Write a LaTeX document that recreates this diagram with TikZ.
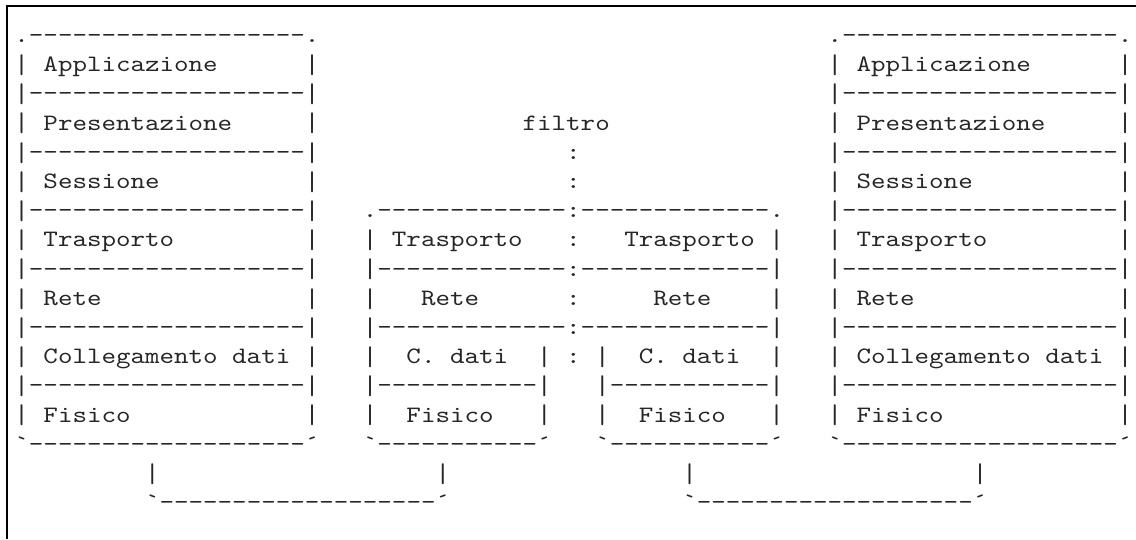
\documentclass[tikz,border=0pt]{standalone}
\usepackage{fontspec}
\newfontfamily\asciifont{lmmono10-regular.otf}[FakeStretch=1.177]
\newcounter{tn}
\newcommand\dsh[1]{\foreach\k in {1,...,#1}{-}}
\newcommand\vb{\raisebox{-1.8pt}{\scalebox{1}[1.15]{|}}}
\tikzset{
  txt/.style={anchor=base west, inner sep=0pt, outer sep=0pt, text=black!85,
    font=\asciifont\fontsize{23.5}{29}\selectfont},
  frame/.style={line width=1.3pt, draw=black}
}
\newcommand\gl[3]{\stepcounter{tn}\node[txt] (t\arabic{tn}) at ({14.44+#1*14.52},{539-42.5-#2*29.2}) {#3};}
\begin{document}
\begin{tikzpicture}[x=1pt,y=1pt]
\useasboundingbox (0,0) rectangle (1136,539);
\coordinate (fa) at (7,0);
\coordinate (fb) at (7,533);
\coordinate (fc) at (1136,533);
\draw[frame] (fa) -- (fb) -- (fc);
% left and right stacks
\foreach \c in {0,56} {
  \pgfmathtruncatemacro\cl{\c+20}
  \pgfmathtruncatemacro\ct{\c+2}
  \gl{\c}{0}{.\dsh{19}.}
  \gl{\c}{1}{\vb} \gl{\ct}{1}{Applicazione} \gl{\cl}{1}{\vb}
  \gl{\c}{2}{\vb\dsh{19}\vb}
  \gl{\c}{3}{\vb} \gl{\ct}{3}{Presentazione} \gl{\cl}{3}{\vb}
  \gl{\c}{4}{\vb\dsh{19}\vb}
  \gl{\c}{5}{\vb} \gl{\ct}{5}{Sessione} \gl{\cl}{5}{\vb}
  \gl{\c}{6}{\vb\dsh{19}\vb}
  \gl{\c}{7}{\vb} \gl{\ct}{7}{Trasporto} \gl{\cl}{7}{\vb}
  \gl{\c}{8}{\vb\dsh{19}\vb}
  \gl{\c}{9}{\vb} \gl{\ct}{9}{Rete} \gl{\cl}{9}{\vb}
  \gl{\c}{10}{\vb\dsh{19}\vb}
  \gl{\c}{11}{\vb} \gl{\ct}{11}{Collegamento dati} \gl{\cl}{11}{\vb}
  \gl{\c}{12}{\vb\dsh{19}\vb}
  \gl{\c}{13}{\vb} \gl{\ct}{13}{Fisico} \gl{\cl}{13}{\vb}
  \gl{\c}{14}{`\dsh{19}´}
}
% filter
\gl{35}{3}{filtro}
\gl{38}{4}{:}
\gl{38}{5}{:}
\gl{24}{6}{.\dsh{13}:\dsh{13}.}
\gl{24}{7}{\vb} \gl{26}{7}{Trasporto} \gl{38}{7}{:} \gl{42}{7}{Trasporto} \gl{52}{7}{\vb}
\gl{24}{8}{\vb\dsh{13}:\dsh{13}\vb}
\gl{24}{9}{\vb} \gl{28}{9}{Rete} \gl{38}{9}{:} \gl{44}{9}{Rete} \gl{52}{9}{\vb}
\gl{24}{10}{\vb\dsh{13}:\dsh{13}\vb}
\gl{24}{11}{\vb} \gl{27}{11}{C. dati} \gl{36}{11}{\vb} \gl{38}{11}{:}
\gl{40}{11}{\vb} \gl{43}{11}{C. dati} \gl{52}{11}{\vb}
\gl{24}{12}{\vb\dsh{11}\vb} \gl{40}{12}{\vb\dsh{11}\vb}
\gl{24}{13}{\vb} \gl{27}{13}{Fisico} \gl{36}{13}{\vb}
\gl{40}{13}{\vb} \gl{43}{13}{Fisico} \gl{52}{13}{\vb}
\gl{24}{14}{`\dsh{11}´} \gl{40}{14}{`\dsh{11}´}
% links
\gl{9}{15}{\vb} \gl{29}{15}{\vb} \gl{46}{15}{\vb} \gl{66}{15}{\vb}
\gl{9}{16}{`\dsh{19}´} \gl{46}{16}{`\dsh{19}´}
\end{tikzpicture}
\end{document}
